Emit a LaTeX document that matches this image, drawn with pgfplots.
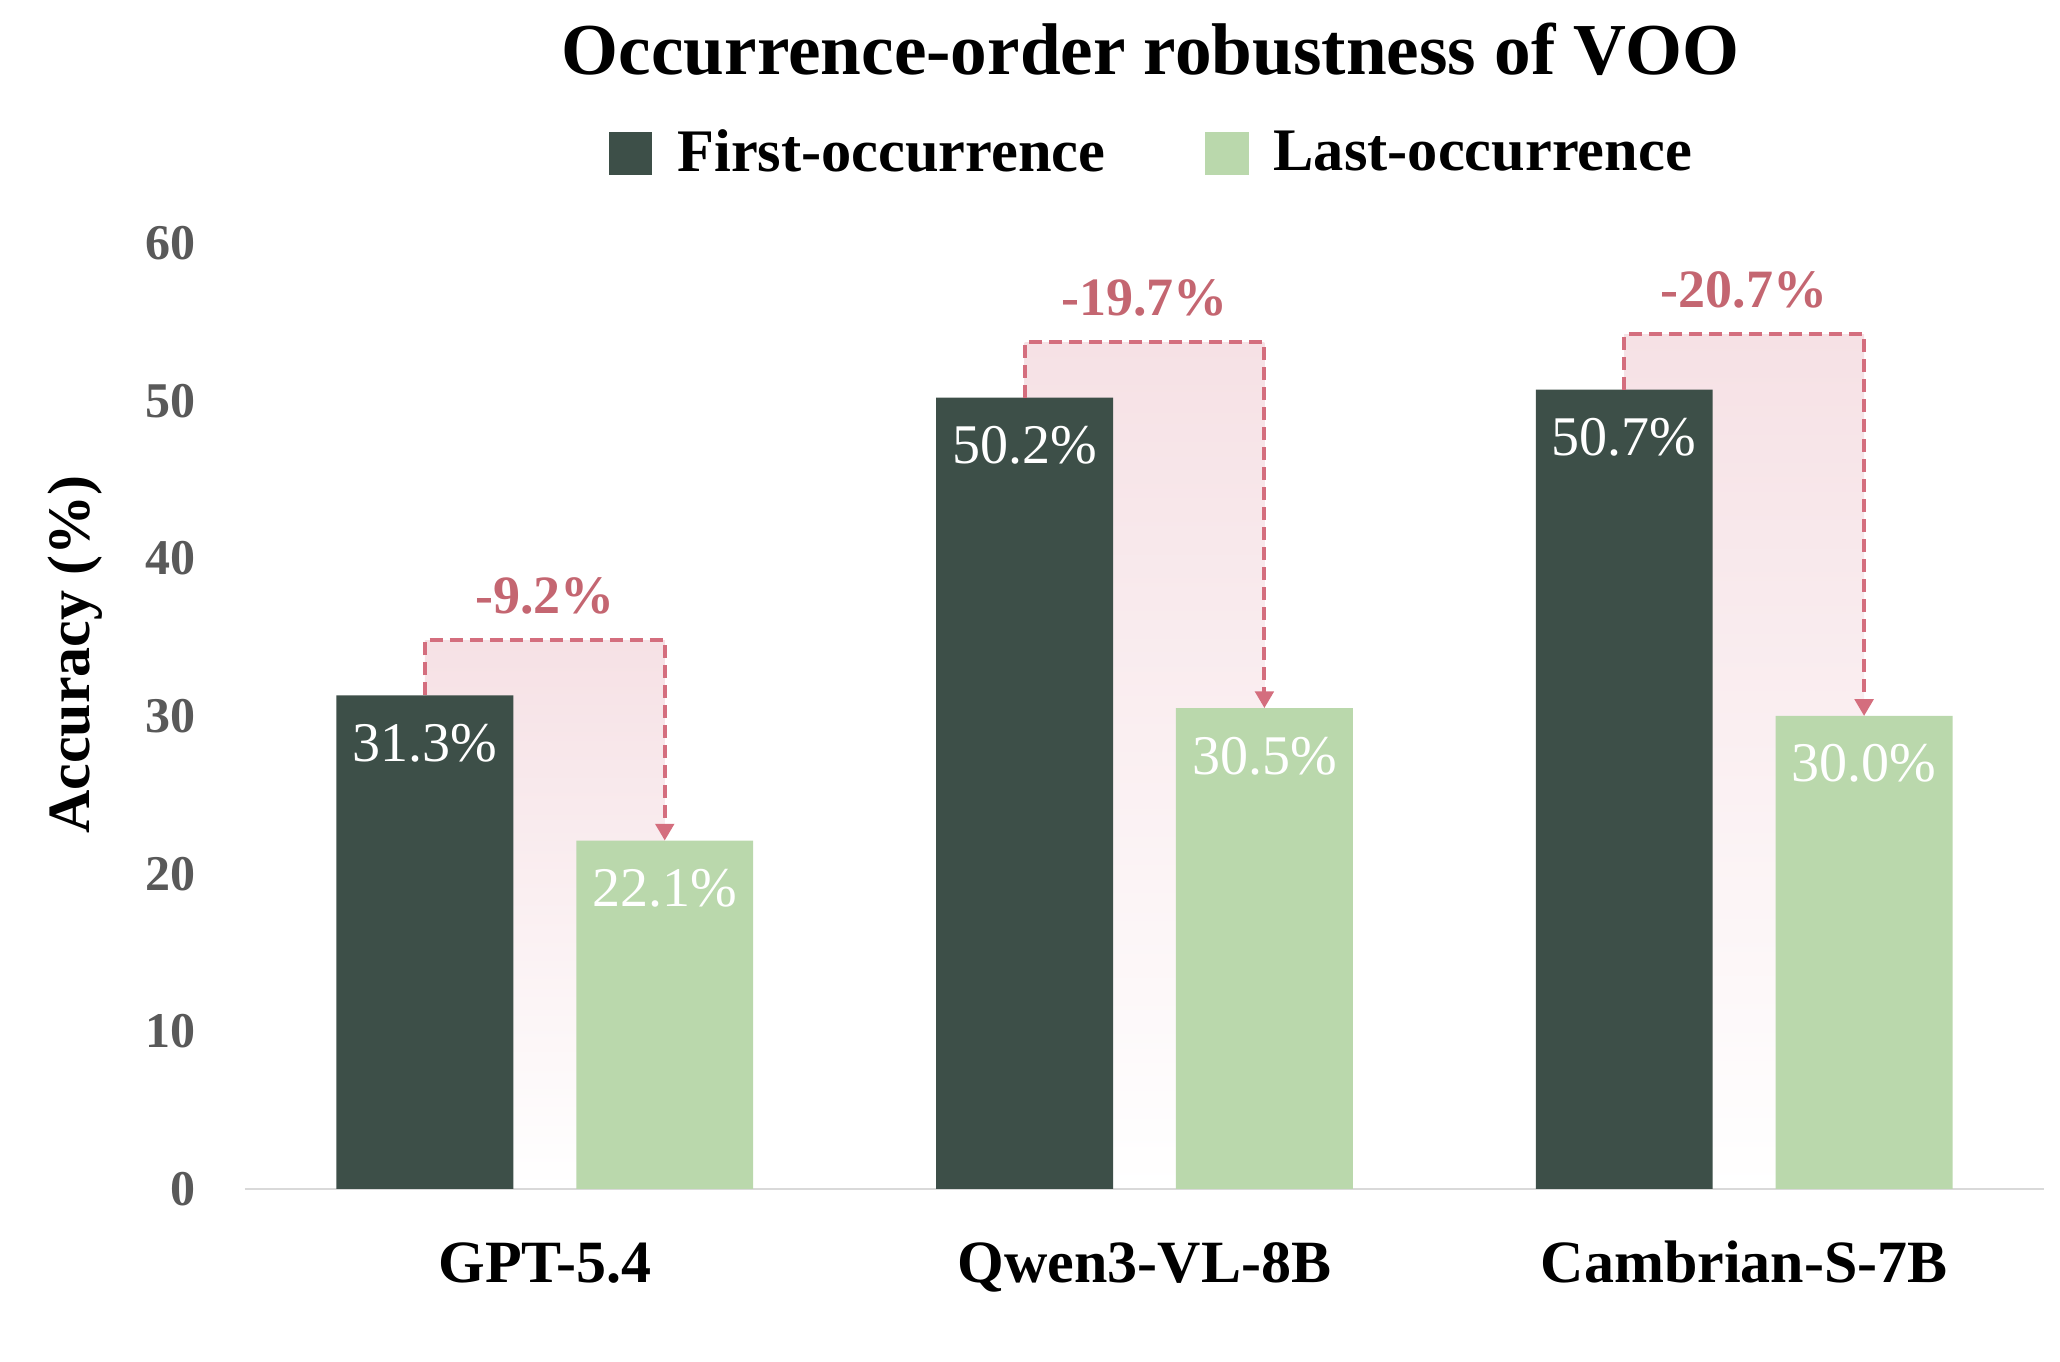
\documentclass[border=0pt]{standalone}
\usepackage{pgfplots}
\pgfplotsset{compat=1.18}
\usepackage{fontspec}
\setmainfont{Liberation Serif}
\usetikzlibrary{arrows.meta,calc}
\definecolor{darkg}{RGB}{61,79,72}
\definecolor{lightg}{RGB}{186,216,172}
\definecolor{dashc}{RGB}{212,110,126}
\definecolor{deltac}{RGB}{196,102,113}
\definecolor{shadec}{RGB}{246,225,229}
\definecolor{tickgray}{RGB}{89,89,89}
\definecolor{axisgray}{RGB}{217,217,217}

\begin{document}
\begin{tikzpicture}
\begin{axis}[
  set layers,
  scale only axis,
  width=449.75pt, height=236.5pt,
  xmin=-0.5, xmax=2.5, ymin=0, ymax=60,
  enlargelimits=false,
  ybar, bar width=0.295,
  axis x line*=bottom, axis y line*=left,
  x axis line style={draw=axisgray, line width=0.6pt},
  y axis line style={draw=none},
  major tick length=0pt,
  xtick={0,1,2},
  xticklabels={GPT-5.4, Qwen3-VL-8B, Cambrian-S-7B},
  xticklabel style={anchor=base, yshift=-23.5pt, font=\fontsize{15}{18}\selectfont\bfseries, text=black},
  ytick={0,10,...,60},
  yticklabel style={anchor=east, inner sep=0pt, xshift=-12.25pt, font=\fontsize{12.5}{15}\selectfont\bfseries, text=tickgray},
  /pgf/number format/assume math mode=true,
  ylabel={Accuracy (\%)},
  every axis y label/.style={at={(axis description cs:-0.0945,0.565)}, rotate=90, anchor=center, font=\fontsize{15}{18}\selectfont\bfseries},
  title={Occurrence-order robustness of VOO},
  title style={at={(axis description cs:0.5,1)}, anchor=center, yshift=42.5pt, xshift=1.5pt, font=\fontsize{18.3}{22}\selectfont\bfseries},
  legend columns=2,
  legend style={at={(axis description cs:0.5,1)}, anchor=center, yshift=22.4pt, xshift=1.5pt, draw=none, fill=none, font=\fontsize{15.1}{18}\selectfont\bfseries, column sep=0pt, nodes={inner sep=0pt}, /tikz/column 2/.style={column sep=25pt}},
  nodes near coords={\pgfmathprintnumber[fixed,fixed zerofill,precision=1]{\pgfplotspointmeta}\%},
  every node near coord/.append style={anchor=base, yshift=-16.5pt, text=white, font=\fontsize{14}{17}\selectfont},
]
\addplot[fill=darkg, draw=none, bar shift=-0.2,
  legend image code/.code={\fill[darkg] (0pt,-5.4pt) rectangle (10.8pt,5.4pt);}]
  coordinates {(0,31.3) (1,50.2) (2,50.7)};
\addplot[fill=lightg, draw=none, bar shift=0.2,
  legend image code/.code={\fill[lightg] (0pt,-5.4pt) rectangle (10.8pt,5.4pt);}]
  coordinates {(0,22.1) (1,30.5) (2,30.0)};
\legend{\hspace{6.25pt}First-occurrence, \hspace{6.25pt}Last-occurrence}

\begin{pgfonlayer}{axis background}
\path[top color=shadec, bottom color=white] (axis cs:-0.2,0) rectangle (axis cs:0.2,34.8);
\path[top color=shadec, bottom color=white] (axis cs:0.8,0) rectangle (axis cs:1.2,53.7);
\path[top color=shadec, bottom color=white] (axis cs:1.8,0) rectangle (axis cs:2.2,54.2);
\end{pgfonlayer}

\tikzset{bracket/.style={dashc, line width=1pt, dash pattern=on 3.25pt off 1.75pt, -{Triangle[width=4.6pt,length=4.2pt,sep=0pt]}},
  delta/.style={text=deltac, font=\fontsize{13.5}{16}\selectfont\bfseries, anchor=base, yshift=6.75pt}}
\draw[bracket] (axis cs:-0.2,31.3) -- (axis cs:-0.2,34.8) -- (axis cs:0.2,34.8) -- (axis cs:0.2,22.1);
\draw[bracket] (axis cs:0.8,50.2) -- (axis cs:0.8,53.7) -- (axis cs:1.2,53.7) -- (axis cs:1.2,30.5);
\draw[bracket] (axis cs:1.8,50.7) -- (axis cs:1.8,54.2) -- (axis cs:2.2,54.2) -- (axis cs:2.2,30.0);
\node[delta] at (axis cs:0,34.8) {-9.2\%};
\node[delta] at (axis cs:1,53.7) {-19.7\%};
\node[delta] at (axis cs:2,54.2) {-20.7\%};
\coordinate (bl) at (rel axis cs:0,0);
\end{axis}
\pgfresetboundingbox
\path[use as bounding box] ($(bl)+(-61.25pt,-43.25pt)$) rectangle ($(bl)+(453.75pt,297.25pt)$);
\end{tikzpicture}
\end{document}
